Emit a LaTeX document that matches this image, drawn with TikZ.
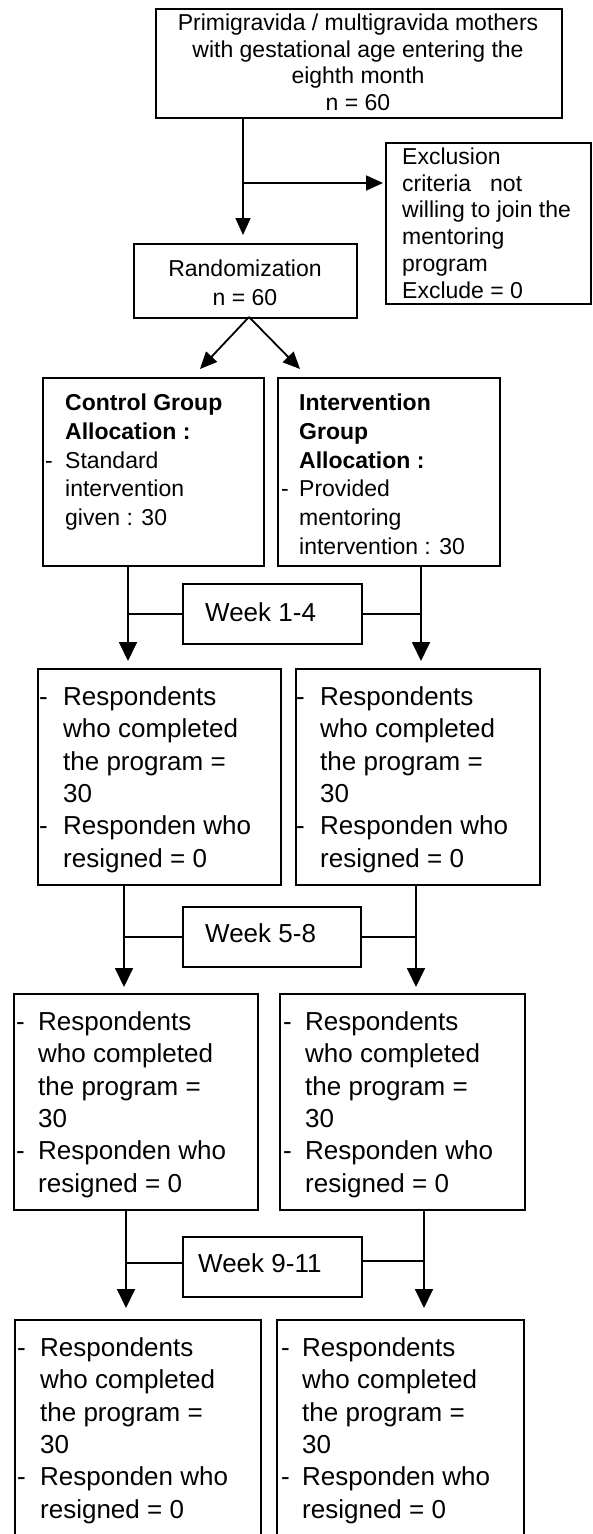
\documentclass[tikz,border=0pt]{standalone}
\usepackage{fontspec}
\setmainfont{Liberation Sans}
\usetikzlibrary{arrows.meta}
\newcommand{\dsh}[1]{\llap{\makebox[#1pt][l]{-}}}
\begin{document}
\begin{tikzpicture}[x=1pt,y=-1pt,
  box/.style={draw=black, line width=1.8pt, inner sep=0pt, anchor=north west},
  txt/.style={inner sep=0pt, anchor=north west, align=left, text=black},
  fa/.style={font=\fontsize{23}{26.7}\selectfont},
  fb/.style={font=\fontsize{23}{28.75}\selectfont},
  fc/.style={font=\fontsize{26}{32.3}\selectfont},
  conn/.style={draw=black, line width=1.8pt},
  arr/.style={conn, -{Triangle[length=17pt,width=15pt]}},
  arrw/.style={conn, -{Triangle[length=19pt,width=18pt]}}]
\useasboundingbox (0,0) rectangle (592,1534);
\clip (0,0) rectangle (592,1534);
% boxes
\node[box, minimum width=406pt, minimum height=109pt] (top) at (155,8) {};
\node[box, minimum width=205pt, minimum height=161pt] (excl) at (385,142) {};
\node[box, minimum width=223pt, minimum height=74pt] (rand) at (133,243) {};
\node[box, minimum width=221pt, minimum height=188pt] (ctrl) at (42,377) {};
\node[box, minimum width=222pt, minimum height=188pt] (intv) at (277,377) {};
\node[box, minimum width=179pt, minimum height=60pt] (w1) at (182,583) {};
\node[box, minimum width=243pt, minimum height=216pt] (r2l) at (37,668) {};
\node[box, minimum width=244pt, minimum height=216pt] (r2r) at (295,668) {};
\node[box, minimum width=178pt, minimum height=60pt] (w2) at (182,906) {};
\node[box, minimum width=244pt, minimum height=216pt] (r3l) at (13,993) {};
\node[box, minimum width=245pt, minimum height=216pt] (r3r) at (279,993) {};
\node[box, minimum width=179pt, minimum height=60pt] (w3) at (182,1236) {};
\node[box, minimum width=246pt, minimum height=226pt] (r4l) at (14,1319) {};
\node[box, minimum width=247pt, minimum height=226pt] (r4r) at (276,1319) {};
% texts
\node[txt, fa, anchor=north, align=center] (topt) at (358,11.6) {\strut Primigravida / multigravida mothers\\ with gestational age entering the\\ eighth month\\ n = 60};
\node[txt, fa] (exclt) at (402,145.7) {\strut Exclusion\\ criteria\hspace{19pt}not\\ willing to join the\\ mentoring\\ program\\ Exclude = 0};
\node[txt, font=\fontsize{23}{29}\selectfont, anchor=north, align=center] (randt) at (245,256) {\strut Randomization\\ n = 60};
\node[txt, fb] (ctrlt) at (65,390.2) {\strut\textbf{Control Group}\\ \textbf{Allocation :}\\ \dsh{20}Standard\\ intervention\\ given : 30};
\node[txt, fb] (intvt) at (299,390.2) {\strut\textbf{Intervention}\\ \textbf{Group}\\ \textbf{Allocation :}\\ \dsh{18}Provided\\ mentoring\\ intervention : 30};
\node[txt, fc, anchor=base west] (w1t) at (205,621.3) {Week 1-4};
\node[txt, fc, anchor=base west] (w2t) at (205,942.3) {Week 5-8};
\node[txt, fc, anchor=base west] (w3t) at (198,1272.3) {Week 9-11};
\node[txt, fc] (r2lt) at (63,682.8) {\strut\dsh{24}Respondents\\ who completed\\ the program =\\ 30\\ \dsh{24}Responden who\\ resigned = 0};
\node[txt, fc] (r2rt) at (320,682.8) {\strut\dsh{24}Respondents\\ who completed\\ the program =\\ 30\\ \dsh{24}Responden who\\ resigned = 0};
\node[txt, fc] (r3lt) at (38,1007.8) {\strut\dsh{22}Respondents\\ who completed\\ the program =\\ 30\\ \dsh{22}Responden who\\ resigned = 0};
\node[txt, fc] (r3rt) at (305,1007.8) {\strut\dsh{22}Respondents\\ who completed\\ the program =\\ 30\\ \dsh{22}Responden who\\ resigned = 0};
\node[txt, fc] (r4lt) at (40,1333.8) {\strut\dsh{23}Respondents\\ who completed\\ the program =\\ 30\\ \dsh{23}Responden who\\ resigned = 0};
\node[txt, fc] (r4rt) at (302,1333.8) {\strut\dsh{21}Respondents\\ who completed\\ the program =\\ 30\\ \dsh{21}Responden who\\ resigned = 0};
% helper coordinates
\coordinate (vx) at (243,0);
\coordinate (hy) at (243,183);
\coordinate (ds) at (249,317);
\coordinate (tl) at (200,369);
\coordinate (tr) at (300,369);
\coordinate (xa) at (128,0);
\coordinate (xb) at (421,0);
\coordinate (xc) at (124,0);
\coordinate (xd) at (416,0);
\coordinate (xe) at (126,0);
\coordinate (xf) at (424,0);
% connectors
\draw[arr, shorten >=8pt] (top.south -| vx) -- (rand.north -| vx);
\draw[arr, shorten >=2pt] (hy) -- (hy -| excl.west);
\draw[arr] (ds) -- (tl);
\draw[arr] (ds) -- (tr);
\draw[arrw, shorten >=7pt] (ctrl.south -| xa) -- (r2l.north -| xa);
\draw[arrw, shorten >=7pt] (intv.south -| xb) -- (r2r.north -| xb);
\draw[conn] (w1.west) -- (w1.west -| xa);
\draw[conn] (w1.east) -- (w1.east -| xb);
\draw[arrw, shorten >=6pt] (r2l.south -| xc) -- (r3l.north -| xc);
\draw[arrw, shorten >=6pt] (r2r.south -| xd) -- (r3r.north -| xd);
\draw[conn] (w2.west) -- (w2.west -| xc);
\draw[conn] (w2.east) -- (w2.east -| xd);
\draw[arrw, shorten >=11pt] (r3l.south -| xe) -- (r4l.north -| xe);
\draw[arrw, shorten >=11pt] (r3r.south -| xf) -- (r4r.north -| xf);
\draw[conn] ([yshift=4pt]w3.west) -- ([yshift=4pt]w3.west -| xe);
\draw[conn] ([yshift=6pt]w3.east) -- ([yshift=6pt]w3.east -| xf);
\end{tikzpicture}
\end{document}
